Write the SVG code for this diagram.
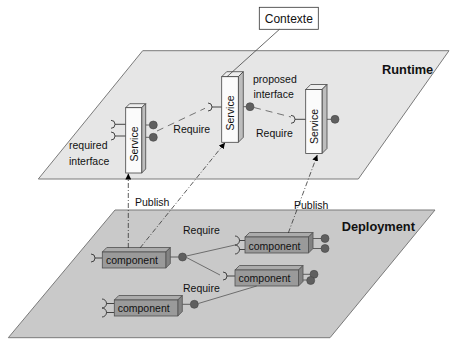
<svg xmlns="http://www.w3.org/2000/svg" width="450" height="345" viewBox="0 0 450 345">
<style>
text{font-family:"Liberation Sans",Arial,sans-serif;font-size:10.5px;fill:#111}
.b{font-weight:bold;font-size:12.8px}
.plane{stroke:#7a7a7a;stroke-width:1}
.sf{fill:#fbfbfb;stroke:#444;stroke-width:0.8}
.ss{fill:#bdbdbd;stroke:#444;stroke-width:0.8}
.st{fill:#ededed;stroke:#444;stroke-width:0.8}
.cf{fill:#9a9a9a;stroke:#505050;stroke-width:0.8}
.cs{fill:#838383;stroke:#505050;stroke-width:0.8}
.ct{fill:#ababab;stroke:#505050;stroke-width:0.8}
.ball{fill:#5f5f5f;stroke:#444;stroke-width:0.6}
.ln{fill:none;stroke:#444;stroke-width:0.8}
.sock{fill:none;stroke:#333;stroke-width:0.9}
.dash{fill:none;stroke:#555;stroke-width:0.8;stroke-dasharray:7,5}
.pub{fill:none;stroke:#333;stroke-width:0.8;stroke-dasharray:5,2,1,2}
.req{fill:none;stroke:#555;stroke-width:0.8}
</style>
<defs>
<marker id="arr" viewBox="0 0 10 10" refX="10" refY="5" markerWidth="6" markerHeight="6" orient="auto" markerUnits="userSpaceOnUse">
<path d="M0,0 L10,5 L0,10 z" fill="#000"/>
</marker>
</defs>

<g id="runtime-plane">
<polygon class="plane" points="142.7,50.7 449,50.7 358.3,179 38.3,179" fill="#e6e6e6"/>
<text class="b" x="382" y="74">Runtime</text>
</g>
<g id="deployment-plane">
<polygon class="plane" points="115,210 435,210 330,337.7 8.3,337.7" fill="#c9c9c9"/>
<text class="b" x="341.7" y="231">Deployment</text>
</g>

<g id="contexte">
<rect x="259.3" y="7.3" width="59" height="22" fill="#fff" stroke="#333" stroke-width="0.8"/>
<text x="288.8" y="22.7" text-anchor="middle" style="font-size:12px">Contexte</text>
</g>

<g id="service1">
<path class="sock" d="M111,120.3 A4,4 0 0 1 111,128.3 M115,124.3 H125.7 M111,132 A4,4 0 0 1 111,140 M115,136 H125.7"/>
<path class="ln" d="M145.7,125 H149.3 M145.7,137.3 H149.3"/>
<circle class="ball" cx="153.3" cy="125" r="4"/>
<circle class="ball" cx="153.3" cy="137.3" r="4"/>
<polygon class="st" points="125.7,107.7 129.7,103.7 145.7,103.7 141.7,107.7"/>
<polygon class="ss" points="141.7,107.7 145.7,103.7 145.7,169 141.7,173"/>
<rect class="sf" x="125.7" y="107.7" width="16" height="65.3"/>
<text transform="translate(137.6,144) rotate(-90)" text-anchor="middle">Service</text>
</g>

<g id="service2">
<path class="sock" d="M208,103 A4,4 0 0 1 208,111 M212,107 H221.7"/>
<path class="ln" d="M243.3,106.7 H246"/>
<circle class="ball" cx="250" cy="106.7" r="4"/>
<polygon class="st" points="221.7,76.7 226.7,71.7 243.3,71.7 238.3,76.7"/>
<polygon class="ss" points="238.3,76.7 243.3,71.7 243.3,137.3 238.3,142.3"/>
<rect class="sf" x="221.7" y="76.7" width="16.6" height="65.6"/>
<text transform="translate(234,113) rotate(-90)" text-anchor="middle">Service</text>
</g>

<g id="service3">
<path class="sock" d="M291,115.3 A4,4 0 0 1 291,123.3 M295,119.3 H305.7"/>
<path class="ln" d="M327,119.3 H331"/>
<circle class="ball" cx="335" cy="119.3" r="4"/>
<polygon class="st" points="305.7,89.5 310.7,84.5 327,84.5 322,89.5"/>
<polygon class="ss" points="322,89.5 327,84.5 327,148.5 322,153.5"/>
<rect class="sf" x="305.7" y="89.5" width="16.3" height="64"/>
<text transform="translate(317.8,126.5) rotate(-90)" text-anchor="middle">Service</text>
</g>

<g id="component1">
<path class="sock" d="M91,254 A4,4 0 0 1 91,262 M95,258 H102.3"/>
<path class="ln" d="M170,257 H178.5"/>
<circle class="ball" cx="182.5" cy="257" r="4"/>
<polygon class="ct" points="102.3,252 106.8,247.5 170.3,247.5 165.8,252"/>
<polygon class="cs" points="165.8,252 170.3,247.5 170.3,263.5 165.8,268"/>
<rect class="cf" x="102.3" y="252" width="63.5" height="16"/>
<text x="106" y="264">component</text>
</g>

<g id="component2">
<path class="sock" d="M235,236 A4.5,4.5 0 0 1 235,245 A4.5,4.5 0 0 1 235,254 M239.5,240.5 H245 M239.5,249.5 H245"/>
<path class="ln" d="M312.7,238.5 H321 M312.7,248.5 H321"/>
<circle class="ball" cx="325" cy="238.5" r="4"/>
<circle class="ball" cx="325" cy="248.5" r="4"/>
<polygon class="ct" points="245,237 249.5,232.5 313,232.5 308.5,237"/>
<polygon class="cs" points="308.5,237 313,232.5 313,248.5 308.5,253"/>
<rect class="cf" x="245" y="237" width="63.5" height="16"/>
<text x="248.5" y="249.5">component</text>
</g>

<g id="component3">
<path class="sock" d="M223,272 A4,4 0 0 1 223,280 M227,276 H235"/>
<path class="ln" d="M303,274.3 H310 M303,280 H307"/>
<circle class="ball" cx="314" cy="274.3" r="4"/>
<circle class="ball" cx="310.7" cy="280.5" r="4"/>
<polygon class="ct" points="235,270 239.5,265.5 303,265.5 298.5,270"/>
<polygon class="cs" points="298.5,270 303,265.5 303,281.5 298.5,286"/>
<rect class="cf" x="235" y="270" width="63.5" height="16"/>
<text x="238.5" y="282">component</text>
</g>

<g id="component4">
<path class="sock" d="M102,299 A4.5,4.5 0 0 1 102,308 A4.5,4.5 0 0 1 102,317 M106.5,303.5 H114.3 M106.5,312.5 H114.3"/>
<path class="ln" d="M182.3,304.3 H190.3"/>
<circle class="ball" cx="194.3" cy="304.3" r="4"/>
<polygon class="ct" points="114.3,300 118.8,295.5 182.3,295.5 177.8,300"/>
<polygon class="cs" points="177.8,300 182.3,295.5 182.3,311.5 177.8,316"/>
<rect class="cf" x="114.3" y="300" width="63.5" height="16"/>
<text x="117.7" y="311.7">component</text>
</g>

<g id="connectors">
<line x1="279.5" y1="29.3" x2="227" y2="76.7" stroke="#444" stroke-width="0.8"/>
<line class="dash" x1="157" y1="131" x2="205" y2="108.3"/>
<line class="dash" x1="254" y1="107.5" x2="291" y2="117"/>
<line class="pub" x1="128.3" y1="248" x2="128.3" y2="173.5" marker-end="url(#arr)"/>
<line class="pub" x1="140" y1="248" x2="225" y2="142.8" marker-end="url(#arr)"/>
<line class="pub" x1="288.3" y1="233" x2="317.3" y2="155" marker-end="url(#arr)"/>
<line class="req" x1="186.5" y1="256" x2="235" y2="245"/>
<line class="req" x1="186.5" y1="257.5" x2="220" y2="275"/>
<line class="req" x1="198.3" y1="303.5" x2="256.7" y2="286"/>
<text x="173.3" y="132.5">Require</text>
<text x="256" y="137">Require</text>
<text x="253" y="82.5">proposed</text>
<text x="253.5" y="98">interface</text>
<text x="69" y="148.5">required</text>
<text x="69" y="165">interface</text>
<text x="135" y="206">Publish</text>
<text x="294" y="209">Publish</text>
<text x="183" y="233.5">Require</text>
<text x="183" y="292">Require</text>
</g>
</svg>
